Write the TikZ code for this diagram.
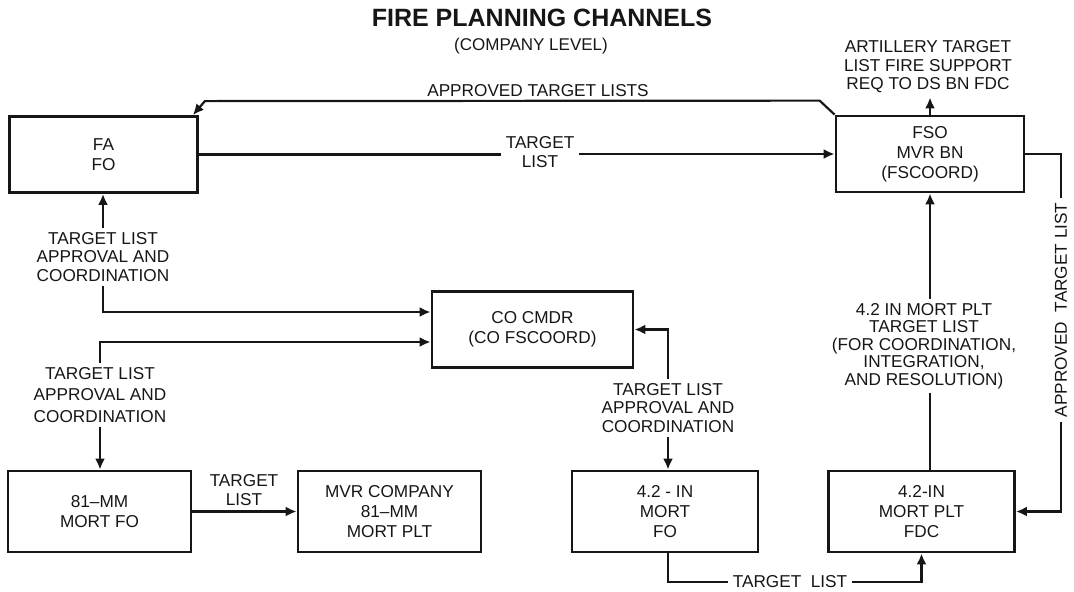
\documentclass[tikz,border=0pt]{standalone}
\usepackage{fontspec}
\setmainfont{Liberation Sans}
\usepackage{xcolor}
\usepackage{tikz}
\usetikzlibrary{arrows.meta,positioning,calc}
\definecolor{inkblack}{RGB}{22,22,22}
\tikzset{
  unitbox/.style={draw=inkblack,line width=1.4pt,align=center,inner sep=2pt,text=inkblack,
    font=\fontsize{8.6}{10}\selectfont},
  flow/.style={line width=1.1pt,draw=inkblack},
  arr/.style={-{Latex[length=5.5pt,width=5pt]},line width=1.1pt,draw=inkblack},
  chanlabel/.style={align=center,inner sep=2pt,text=inkblack,
    font=\fontsize{8.6}{9.2}\selectfont}
}

\begin{document}
\begin{tikzpicture}[
  x=0.5pt,y=-0.5pt,
  toprow/.style={unitbox,minimum width=94pt,minimum height=38pt},
  botrow/.style={unitbox,minimum width=93pt,minimum height=40.5pt},
  charttitle/.style={font=\bfseries\fontsize{12.5}{14}\selectfont,text=inkblack},
  chartsub/.style={font=\fontsize{8.5}{10}\selectfont,text=inkblack}
]
\useasboundingbox (0,0) rectangle (1074,591);

\node[charttitle] (ttl) at (542,18) {FIRE PLANNING CHANNELS};
\node[chartsub] (sub) at (531,46) {(COMPANY LEVEL)};

% boxes
\node[toprow] (fa) at (103.5,154.5) {FA\\FO};
\node[toprow] (fso) at (930,154) {FSO\\MVR BN\\(FSCOORD)};
\node[toprow,minimum width=100.5pt] (co) at (532.5,329.5) {CO CMDR\\(CO FSCOORD)};
\node[botrow,minimum width=91.5pt] (mo81) at (99.5,511.5) {81--MM\\MORT FO};
\node[botrow,minimum width=91.5pt] (mvr) at (389.5,511.5) {MVR COMPANY\\81--MM\\MORT PLT};
\node[botrow] (fo42) at (665,511.5) {4.2 - IN\\MORT\\FO};
\node[botrow] (fdc) at (921.5,511.5) {4.2-IN\\MORT PLT\\FDC};

% labels on the channels
\node[chanlabel] (atl) at (538,91) {APPROVED TARGET LISTS};
\node[chanlabel] (tl1) at (540,152) {TARGET\\LIST};
\node[chanlabel] (art) at (928,67) {ARTILLERY TARGET\\LIST FIRE SUPPORT\\REQ TO DS BN FDC};
\node[chanlabel,rotate=90] (atl2) at (1061,310) {APPROVED\ \ TARGET LIST};
\node[chanlabel] (ap1) at (103,257) {TARGET LIST\\APPROVAL AND\\COORDINATION};
\node[chanlabel,font=\fontsize{8.6}{10.6}\selectfont] (ap2) at (100,395)
  {TARGET LIST\\APPROVAL AND\\COORDINATION};
\node[chanlabel] (ap3) at (668,408) {TARGET LIST\\APPROVAL AND\\COORDINATION};
\node[chanlabel] (tl2) at (244,490) {TARGET\\LIST};
\node[chanlabel] (tl3) at (790,582) {TARGET\ \ LIST};
\node[chanlabel,font=\fontsize{8.6}{8.8}\selectfont] (plt) at (924,346)
  {4.2 IN MORT PLT\\TARGET LIST\\(FOR COORDINATION,\\INTEGRATION,\\AND RESOLUTION)};

% channels
\draw[arr] (fso.north west) -- ++(-15,-14) -- ($(fa.north east)+(6,-14)$)
  -- ($(fa.north east)+(-6,0)$);

\draw[flow] (fa.east) -- (tl1.west |- fa.east);
\draw[arr] (tl1.east |- fso.west) -- (fso.west);

\draw[arr] (fso.north) -- (fso.north |- art.south);

\draw[flow] (fso.east) -| (atl2.east);
\draw[arr] (atl2.west) |- (fdc.east);

\draw[arr] (ap1.north) -- (ap1.north |- fa.south);
\draw[arr] (ap1.south) |- ([yshift=8.75pt]co.west);
\draw[arr] (ap2.north) |- ([yshift=-6.25pt]co.west);
\draw[arr] (ap2.south) -- (ap2.south |- mo81.north);

\draw[arr] (mo81.east) -- (mvr.west);

\draw[arr] (ap3.north) |- (co.east);
\draw[arr] (ap3.south) -- (ap3.south |- fo42.north);

\draw[flow] (ap3.south |- fo42.south) |- (tl3.west);
\draw[arr] (tl3.east) -| (fdc.south);

\draw[flow] (fdc.north -| fso.south) -- (plt.south -| fso.south);
\draw[arr] (plt.north -| fso.south) -- (fso.south);

\end{tikzpicture}
\end{document}
